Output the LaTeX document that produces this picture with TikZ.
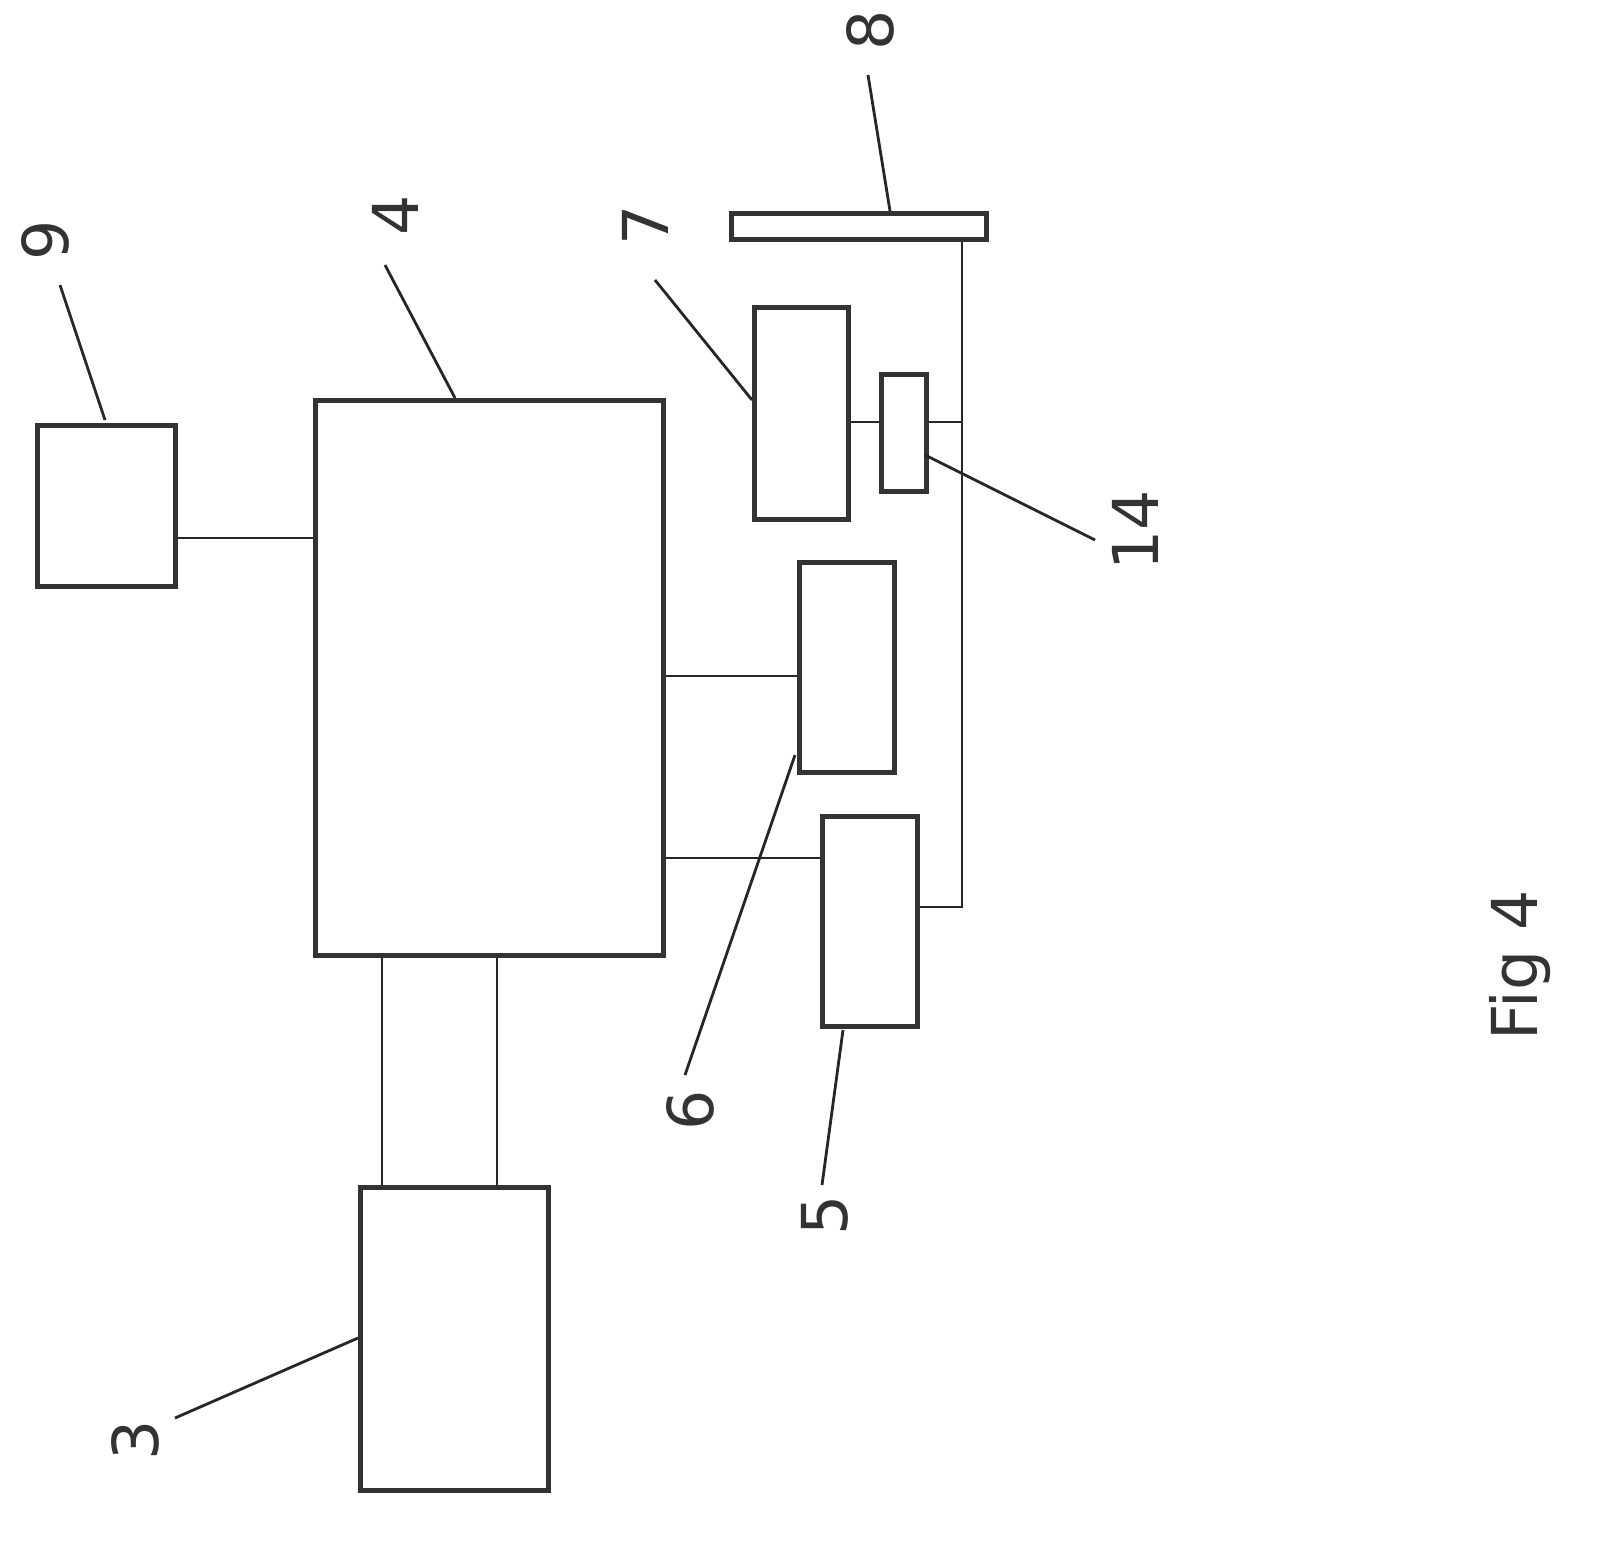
\documentclass[tikz,border=0pt]{standalone}
\usepackage{fontspec}
\setmainfont{DejaVu Sans}
\tikzset{boxes/.style={rectangle, draw=black!80, line width=1.3pt, inner sep=0pt, anchor=north west},
  wire/.style={line width=0.8pt, draw=black!85},
  lbl/.style={rotate=90, font=\fontsize{18}{20}\selectfont, text=black!80}}
\begin{document}
\begin{tikzpicture}[x=0.01cm, y=-0.01cm]
        \useasboundingbox (0,0) rectangle (1600,1542);
        \node[boxes, minimum width=1.38cm, minimum height=1.61cm] (box9) at (35,423) {};
        \node[boxes, minimum width=3.48cm, minimum height=5.55cm] (box4) at (313,398) {};
        \node[boxes, minimum width=1.88cm, minimum height=3.03cm] (box3) at (358,1185) {};
        \node[boxes, minimum width=0.95cm, minimum height=2.10cm] (box6) at (797,560) {};
        \node[boxes, minimum width=0.95cm, minimum height=2.10cm] (box5) at (820,814) {};
        \node[boxes, minimum width=0.94cm, minimum height=2.12cm] (box7) at (752,305) {};
        \node[boxes, minimum width=0.45cm, minimum height=1.17cm] (box14) at (879,372) {};
        \node[boxes, minimum width=2.55cm, minimum height=0.26cm] (bar8) at (729,211) {};
        \coordinate (bend) at (962,907);

        \draw[wire] (box9.east |- 0,538) -- (box4.west |- 0,538);
        \draw[wire] (box4.south -| 382,0) -- (box3.north -| 382,0);
        \draw[wire] (box4.south -| 497,0) -- (box3.north -| 497,0);
        \draw[wire] (box4.east |- 0,676) -- (box6.west |- 0,676);
        \draw[wire] (box4.east |- 0,858) -- (box5.west |- 0,858);
        \draw[wire] (box5.east |- bend) -- (bend) -- (bar8.south -| bend);
        \draw[wire] (box7.east |- 0,422) -- (box14.west |- 0,422);
        \draw[wire] (box14.east |- 0,422) -- (bend |- 0,422);

        % labels
        \node[lbl] (l9) at (45,240) {9};
        \node[lbl] (l4) at (395,215) {4};
        \node[lbl] (l7) at (645,225) {7};
        \node[lbl] (l8) at (870,30) {8};
        \node[lbl] (l14) at (1135,530) {14};
        \node[lbl] (l6) at (690,1110) {6};
        \node[lbl] (l5) at (825,1215) {5};
        \node[lbl] (l3) at (135,1440) {3};
        \node[lbl] (fig) at (1520,965) {Fig 4};

        \draw[wire] (60,285) -- (105,420);
        \draw[wire] (385,265) -- (455,398);
        \draw[wire] (655,280) -- (752,400);
        \draw[wire] (868,75) -- (890,211);
        \draw[wire] (925,455) -- (1095,540);
        \draw[wire] (795,755) -- (685,1075);
        \draw[wire] (843,1030) -- (822,1185);
        \draw[wire] (175,1418) -- (358,1338);
\end{tikzpicture}
\end{document}
